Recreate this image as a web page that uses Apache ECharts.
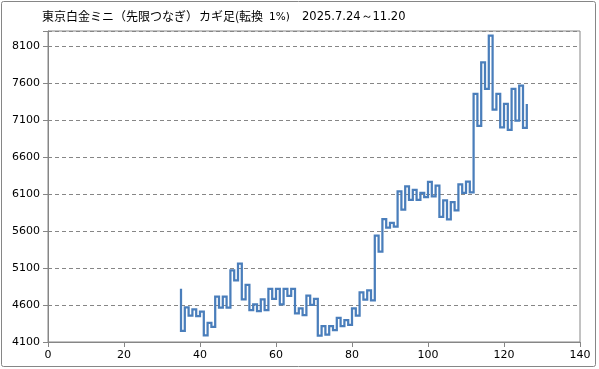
<!DOCTYPE html>
<html><head><meta charset="utf-8">
<script src="https://cdn.jsdelivr.net/npm/echarts@6/dist/echarts.min.js"></script>
<style>html,body{margin:0;padding:0;background:#fff}#c{width:599px;height:369px}</style>
</head><body><div id="c"></div>
<script>
// Kagi chart data: first turn at x = 35, starting price, then the price after each vertical turn
const firstTurnX = 35;
const startPrice = 4820;
const turnPrices = [
  4250, 4568, 4455, 4541, 4450, 4509, 4191, 4359, 4305, 4714,
  4564, 4714, 4564, 5068, 4932, 5159, 4677, 4873, 4532, 4609,
  4518, 4677, 4532, 4818, 4682, 4818, 4609, 4818, 4723, 4818,
  4486, 4555, 4464, 4727, 4600, 4682, 4187, 4313, 4201, 4313,
  4259, 4425, 4313, 4394, 4331, 4555, 4457, 4770, 4672, 4797,
  4663, 5537, 5322, 5761, 5645, 5710, 5658, 6135, 5888, 6202,
  6020, 6153, 6020, 6113, 6056, 6264, 6065, 6211, 5790, 6011,
  5755, 5989, 5879, 6230, 6113, 6266, 6122, 7450, 7018, 7877,
  7517, 8237, 7238, 7450, 7000, 7315, 6964, 7517, 7090, 7562,
  6991, 7315
];
const yTicks = [4100, 4600, 5100, 5600, 6100, 6600, 7100, 7600, 8100];
const xTicks = [0, 20, 40, 60, 80, 100, 120, 140];
const titleParts = ['東京白金ミニ（先限つなぎ）', 'カギ足(転換', '1%)', '2025.7.24～11.20'];

const pts = [[firstTurnX, startPrice]];
for (let i = 0; i < turnPrices.length; i++) {
  const x = firstTurnX + i;
  if (i > 0) pts.push([x, turnPrices[i - 1]]);
  pts.push([x, turnPrices[i]]);
}

const chart = echarts.init(document.getElementById('c'), null, {renderer: 'canvas'});
const grey = '#868686';
const cjk = 'Noto Sans CJK JP';
chart.setOption({
  animation: false,
  backgroundColor: '#fff',
  textStyle: {fontFamily: 'Noto Sans CJK JP, Noto Sans, sans-serif'},
  graphic: [
    {type: 'rect', shape: {x: 1.5, y: 1.5, width: 594, height: 365, r: 2}, style: {fill: null, stroke: grey, lineWidth: 1}, silent: true},
    {type: 'text', x: 42, y: 16, style: {text: titleParts[0], fontSize: 12, fontFamily: cjk, fill: '#000', verticalAlign: 'middle'}},
    {type: 'text', x: 199, y: 16, style: {text: titleParts[1], fontSize: 12, fontFamily: cjk, fill: '#000', verticalAlign: 'middle'}},
    {type: 'text', x: 269, y: 17, style: {text: titleParts[2], fontSize: 10.5, fontFamily: 'DejaVu Sans', fill: '#000', verticalAlign: 'middle'}},
    {type: 'text', x: 302, y: 17, style: {text: titleParts[3], fontSize: 11.5, fontFamily: 'DejaVu Sans', fill: '#000', verticalAlign: 'middle'}}
  ],
  grid: {left: 48, right: 19, top: 31, bottom: 27, show: true, borderColor: grey, borderWidth: 1},
  xAxis: {
    type: 'value', min: xTicks[0], max: xTicks[xTicks.length - 1], interval: 20,
    axisLine: {lineStyle: {color: grey}},
    axisTick: {show: true, length: 5, lineStyle: {color: grey}},
    axisLabel: {color: '#000', fontSize: 11, fontFamily: 'DejaVu Sans', margin: 8},
    splitLine: {show: false}
  },
  yAxis: {
    type: 'value', min: yTicks[0], max: 8300, interval: 500,
    axisLine: {show: true, lineStyle: {color: grey}},
    axisTick: {show: true, length: 5, lineStyle: {color: grey}},
    axisLabel: {color: '#000', fontSize: 11, fontFamily: 'DejaVu Sans', margin: 8,
      formatter: v => (yTicks.indexOf(v) >= 0 ? String(v) : '')},
    splitLine: {show: true, lineStyle: {color: grey, type: [4, 3], width: 1}}
  },
  series: [{
    type: 'line', data: pts, showSymbol: false, symbol: 'none',
    lineStyle: {color: '#4a7ebb', width: 2.25, join: 'miter'},
    silent: true
  }]
});
</script></body></html>
